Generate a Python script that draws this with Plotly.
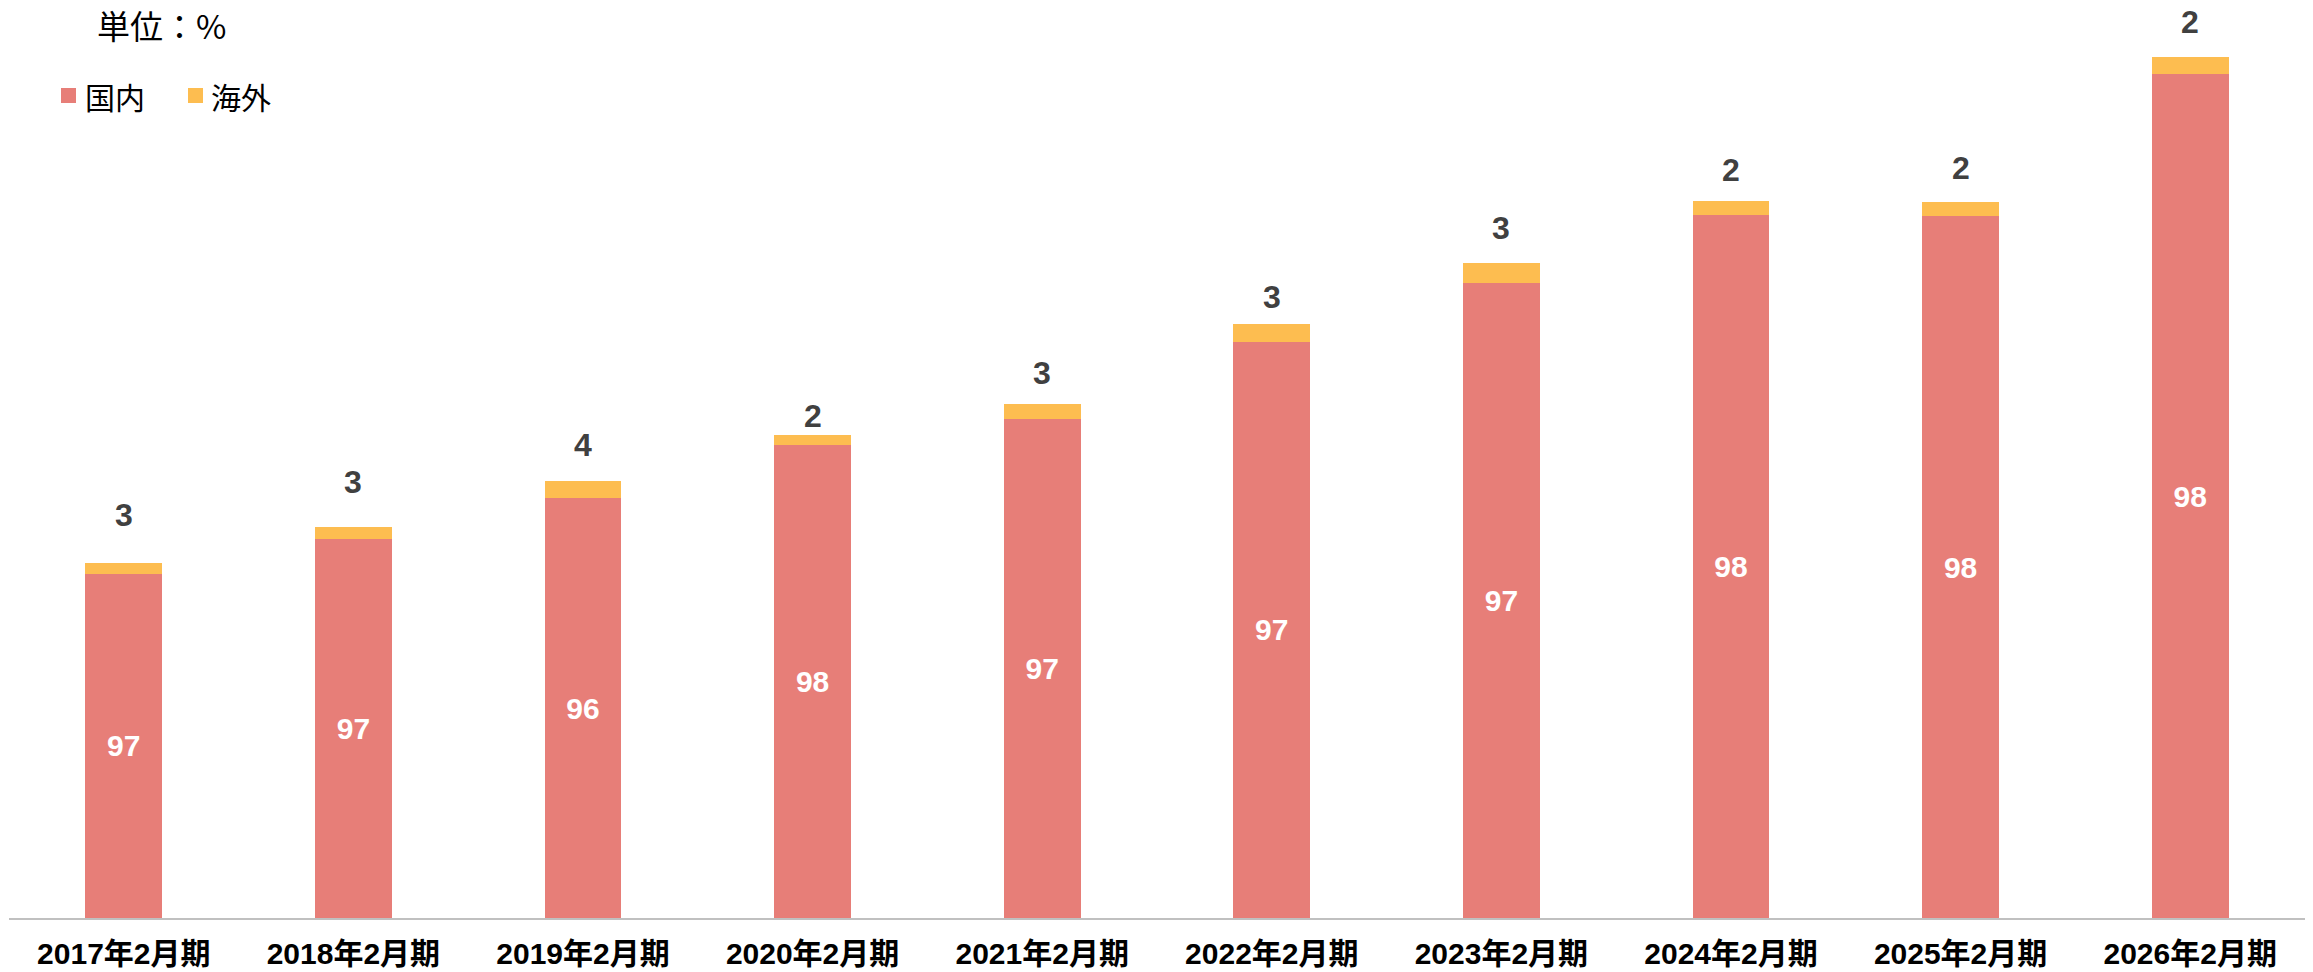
import plotly.graph_objects as go

# Fiscal periods (February year-end)
periods = ["2017年2月期", "2018年2月期", "2019年2月期", "2020年2月期", "2021年2月期",
           "2022年2月期", "2023年2月期", "2024年2月期", "2025年2月期", "2026年2月期"]

# Total sales scale per period (relative units) used for bar heights
totals = [355, 391, 437, 483, 514, 594, 655, 717, 716, 861]

# Share of sales by region (%)
domestic_pct = [97, 97, 96, 98, 97, 97, 97, 98, 98, 98]
overseas_pct = [3, 3, 4, 2, 3, 3, 3, 2, 2, 2]

domestic_vals = [t * d / (d + o) for t, d, o in zip(totals, domestic_pct, overseas_pct)]
overseas_vals = [t * o / (d + o) for t, d, o in zip(totals, domestic_pct, overseas_pct)]

RED = "#E77E78"
YELLOW = "#FDBD50"
LABEL_DARK = "#404040"
FONT = "Liberation Sans, Arial, Noto Sans CJK JP, sans-serif"
CJK_FONT = "Noto Sans CJK JP, sans-serif"

fig = go.Figure()
fig.add_trace(go.Bar(
    name="国内", x=periods, y=domestic_vals, marker_color=RED,
    marker_line_width=0,
    text=[str(v) for v in domestic_pct], textposition="inside",
    insidetextanchor="middle", textangle=0, constraintext="none",
    textfont=dict(family=FONT, size=30, color="white", weight="bold"),
))
fig.add_trace(go.Bar(
    name="海外", x=periods, y=overseas_vals, marker_color=YELLOW,
    marker_line_width=0, textposition="none",
))

# Overseas share labels sit above each stacked bar
label_lift = [48, 45, 36, 19, 31, 27, 35, 31, 34, 35]
for p, tot, o, lift in zip(periods, totals, overseas_pct, label_lift):
    fig.add_annotation(
        x=p, y=tot, xref="x", yref="y", text=str(o), showarrow=False,
        yanchor="middle", yshift=lift,
        font=dict(family=FONT, size=32, color=LABEL_DARK, weight="bold"),
    )

# Unit note drawn in the top-left corner
fig.add_annotation(
    x=95, y=25, xref="paper", yref="paper", text="単位：%", showarrow=False,
    xanchor="left", yanchor="middle",
    font=dict(family=CJK_FONT, size=33, color="black"),
)

fig.update_layout(
    barmode="stack",
    bargap=0.665,
    showlegend=False,
    width=2313, height=972,
    margin=dict(l=9, r=8, t=30, b=54, autoexpand=False),
    paper_bgcolor="white", plot_bgcolor="white",
    xaxis=dict(
        range=[-0.5, 9.5], showgrid=False, zeroline=False, automargin=False,
        showline=True, linecolor="#C0C0C0", linewidth=2,
        ticks="", ticklabelstandoff=8,
        tickfont=dict(family=FONT, size=30, color="black", weight="bold"),
    ),
    yaxis=dict(range=[0, 888], visible=False, showgrid=False, zeroline=False,
               automargin=False),
)

# Convert pixel-placed decorations to paper coordinates
W, H = 2313, 972
L, R, T, B = 9, 8, 30, 54
pw, ph = W - L - R, H - T - B


def px_to_paper(xp, yp):
    return (xp - L) / pw, (H - B - yp) / ph


for ann in fig.layout.annotations:
    if ann.xref == "paper":
        ann.x, ann.y = px_to_paper(ann.x, ann.y)

# Legend swatches and labels
legend_items = [("国内", RED, 61, 83), ("海外", YELLOW, 188, 209)]
for name, color, sx, tx in legend_items:
    x0, y0 = px_to_paper(sx, 103)
    x1, y1 = px_to_paper(sx + 15, 88)
    fig.add_shape(type="rect", xref="paper", yref="paper",
                  x0=x0, x1=x1, y0=y0, y1=y1, fillcolor=color, line_width=0)
    ax, ay = px_to_paper(tx, 96)
    fig.add_annotation(
        x=ax, y=ay, xref="paper", yref="paper", text=name, showarrow=False,
        xanchor="left", yanchor="middle",
        font=dict(family=CJK_FONT, size=30, color="black"),
    )

fig.write_html("out.html")
